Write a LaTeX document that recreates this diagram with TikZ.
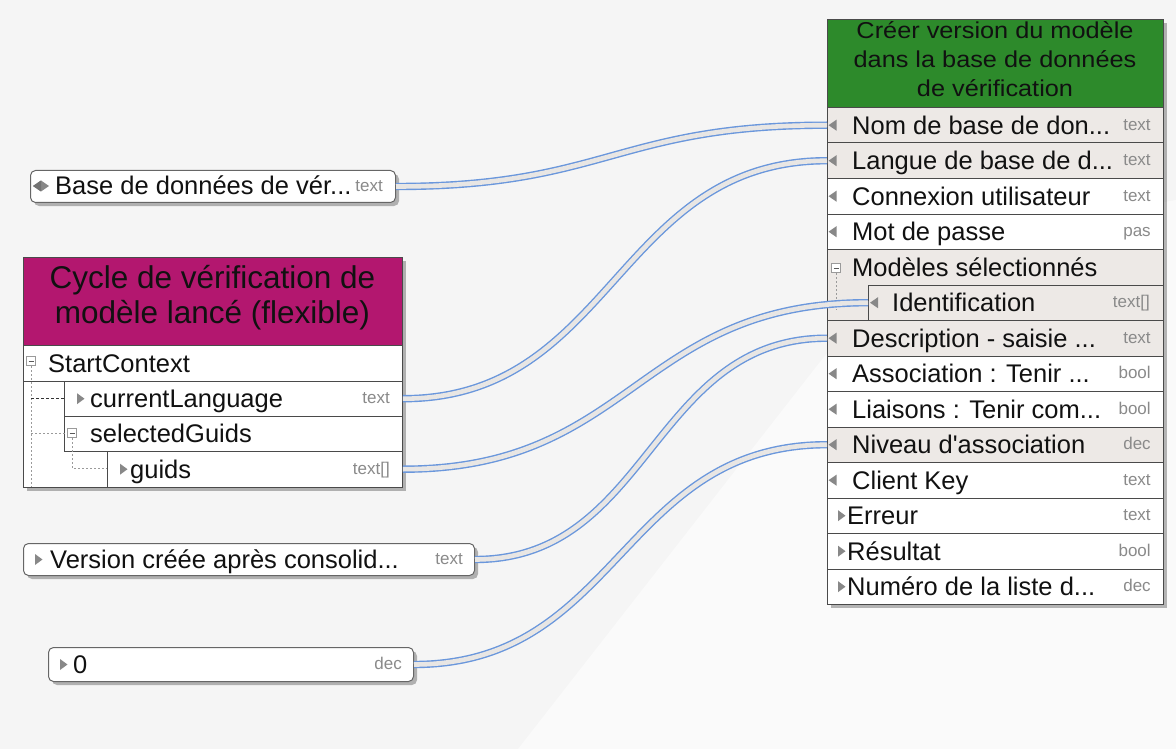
\documentclass[tikz,border=0pt]{standalone}
\usepackage{fontspec}
\setmainfont{Liberation Sans}
\newfontfamily\rf{Liberation Sans}
\newfontfamily\ghfont{Liberation Sans}[FakeStretch=1.1]
\usetikzlibrary{shadows,calc}
\definecolor{bg}{HTML}{F5F5F5}
\definecolor{bglight}{HTML}{FAFAFA}
\definecolor{boxline}{HTML}{4A4A4A}
\definecolor{nodeline}{HTML}{666666}
\definecolor{shade}{HTML}{EDE9E6}
\definecolor{ggreen}{HTML}{2D8A2B}
\definecolor{pmag}{HTML}{B3176F}
\definecolor{txt}{HTML}{111111}
\definecolor{typegray}{HTML}{8A8A8A}
\definecolor{icongray}{HTML}{888888}
\definecolor{treegray}{HTML}{9A9A9A}
\definecolor{pipeblue}{HTML}{6A97DC}
\definecolor{pipefill}{HTML}{E8E6E4}
\pgfdeclarelayer{icons}
\pgfsetlayers{main,icons}
\newcommand\grow[6]{%
  \node[rowbox, fill=#3, minimum width=336, minimum height=35.5] (#1) at (827,{107+35.5*#2}) {};
  \node[rt] (#1-t) at ([xshift=#6,yshift=-9pt]#1.west) {#4};
  \node[tl] (#1-y) at ([xshift=-13pt,yshift=-5pt]#1.east) {#5};}
\newcommand\inarr[2]{\begin{pgfonlayer}{icons}\fill[icongray] ([xshift=#2]#1.west) -- ++(8,-5.5) -- ++(0,11) -- cycle;\end{pgfonlayer}}
\newcommand\outarr[2]{\begin{pgfonlayer}{icons}\fill[icongray] ([xshift=#2,yshift=5.5pt]#1.west) -- ++(0,11) -- ++(7.5,-5.5) -- cycle;\end{pgfonlayer}}
\newcommand\minusbox[2]{\begin{pgfonlayer}{icons}\draw[draw=treegray, fill=white, line width=0.7pt] (#1-4.5,#2-4.5) rectangle ++(9,9);
  \draw[draw=black!65, line width=0.9pt] (#1-2.5,#2) -- ++(5,0);\end{pgfonlayer}}
\begin{document}
\begin{tikzpicture}[x=1pt,y=-1pt,
  rowbox/.style={draw=boxline, line width=0.9pt, inner sep=0, anchor=north west},
  rt/.style={font=\rf\fontsize{25.5}{30}\selectfont, text=txt, inner sep=0, anchor=base west},
  tl/.style={font=\rf\fontsize{17}{20}\selectfont, text=typegray, inner sep=0, anchor=base east},
  ghtext/.style={font=\ghfont\fontsize{23}{28}\selectfont, text=txt, inner sep=0, anchor=base},
  phtext/.style={font=\rf\fontsize{31.5}{36}\selectfont, text=txt, inner sep=0, anchor=base},
  pipe/.style={draw=pipeblue, line width=1.4pt, double=pipefill, double distance=4.6pt},
  shad/.style={drop shadow={shadow xshift=3.5pt, shadow yshift=-3.5pt, fill=black, opacity=0.28}},
  rnode/.style={rowbox, rounded corners=5pt, fill=white, draw=nodeline, line width=1pt, shad},
  tree/.style={draw=treegray, line width=0.8pt, dash pattern=on 2pt off 2pt},
]
\useasboundingbox (0,0) rectangle (1176,749);
\fill[bg] (0,0) rectangle (1176,749);
\fill[bglight] (518,749) -- (816,367) .. controls (900,260) and (1000,230) .. (1176,200) -- (1176,749) -- cycle;

% ---------- green function box ----------
\node[rowbox, fill=white, minimum width=336, minimum height=585, shad] (gbox) at (827,19) {};
\node[rowbox, fill=ggreen, minimum width=336, minimum height=88] (ghdr) at (827,19) {};
\node[ghtext] (gh1) at (995,39) {Créer version du modèle};
\node[ghtext] (gh2) at (995,68) {dans la base de données};
\node[ghtext] (gh3) at (995,97) {de vérification};

\grow{nom}{0}{shade}{Nom de base de don...}{text}{25pt}
\grow{langue}{1}{shade}{Langue de base de d...}{text}{25pt}
\grow{conn}{2}{white}{Connexion utilisateur}{text}{25pt}
\grow{mdp}{3}{white}{Mot de passe}{pas}{25pt}
\node[rowbox, fill=shade, minimum width=336, minimum height=71] (mods) at (827,249) {};
\node[rt] (mods-t) at (852,276) {Modèles sélectionnés};
\node[rowbox, fill=shade, minimum width=295, minimum height=35.5] (ident) at (868,284.5) {};
\node[rt] (ident-t) at (892,311) {Identification};
\node[tl] (ident-y) at (1150,307) {text[]};
\draw[tree] (836,273) -- (836,310);
\minusbox{836}{268}
\grow{desc}{6}{shade}{Description - saisie ...}{text}{25pt}
\grow{assoc}{7}{white}{Association : Tenir ...}{bool}{25pt}
\grow{liais}{8}{white}{Liaisons : Tenir com...}{bool}{25pt}
\grow{niv}{9}{shade}{Niveau d'association}{dec}{25pt}
\grow{ck}{10}{white}{Client Key}{text}{25pt}
\grow{err}{11}{white}{Erreur}{text}{20pt}
\grow{res}{12}{white}{Résultat}{bool}{20pt}
\grow{num}{13}{white}{Numéro de la liste d...}{dec}{20pt}
\inarr{nom}{1.5pt}\inarr{langue}{1.5pt}\inarr{conn}{1.5pt}\inarr{mdp}{1.5pt}
\inarr{ident}{2pt}
\inarr{desc}{1.5pt}\inarr{assoc}{1.5pt}\inarr{liais}{1.5pt}\inarr{niv}{1.5pt}\inarr{ck}{1.5pt}
\outarr{err}{11pt}\outarr{res}{11pt}\outarr{num}{11pt}

% ---------- magenta event box ----------
\node[rowbox, fill=white, minimum width=379, minimum height=230, shad] (pbox) at (23,257) {};
\node[rowbox, fill=pmag, minimum width=379, minimum height=88] (phdr) at (23,257) {};
\node[phtext] (ph1) at (212.5,288) {Cycle de vérification de};
\node[phtext] (ph2) at (212.5,323) {modèle lancé (flexible)};
\node[rowbox, fill=white, minimum width=379, minimum height=36] (sc) at (23,345) {};
\node[rt] (sc-t) at (48,372) {StartContext};
\node[rowbox, fill=white, minimum width=338, minimum height=34.5] (cl) at (64,381) {};
\node[rt] (cl-t) at (90,407) {currentLanguage};
\node[tl] (cl-y) at (390,403) {text};
\node[rowbox, fill=white, minimum width=338, minimum height=35] (sg) at (64,415.5) {};
\node[rt] (sg-t) at (90,442) {selectedGuids};
\node[rowbox, fill=white, minimum width=295, minimum height=36.5] (gu) at (107,450.5) {};
\node[rt] (gu-t) at (130,478) {guids};
\node[tl] (gu-y) at (390,474) {text[]};
\draw[tree] (31,366) -- (31,487);
\draw[tree, draw=black!80, dash pattern=on 3pt off 2pt] (31,398) -- (64,398);
\draw[tree] (31,433) -- (68,433);
\draw[tree] (72,438) -- (72,468) -- (107,468);
\minusbox{31}{361}
\minusbox{72}{433}
\outarr{cl}{13pt}
\outarr{gu}{13pt}

% ---------- value nodes ----------
\node[rnode, minimum width=365, minimum height=32] (base) at (30,170) {};
\node[rt] (base-t) at (55,195) {Base de données de vér...};
\node[tl] (base-y) at (383,191) {text};
\begin{pgfonlayer}{icons}
\fill[icongray] (33,186) -- (41,180.5) -- (49,186) -- (41,191.5) -- cycle;
\fill[black!55] (33,186) -- (41,180.5) -- (41,191.5) -- cycle;
\end{pgfonlayer}

\node[rnode, minimum width=451, minimum height=32] (version) at (23,543) {};
\node[rt] (version-t) at (50,568) {Version créée après consolid...};
\node[tl] (version-y) at (463,564) {text};
\outarr{version}{12pt}

\node[rnode, minimum width=365, minimum height=34] (zero) at (48,647) {};
\node[rt] (zero-t) at (73,673) {0};
\node[tl] (zero-y) at (402,669) {dec};
\outarr{zero}{12pt}

% ---------- connectors ----------
\draw[pipe] (base.east) .. controls +(210,0) and +(-210,0) .. (nom.west);
\draw[pipe] (cl.east) .. controls +(210,0) and +(-210,0) .. (langue.west);
\draw[pipe] (gu.east) .. controls +(230,0) and +(-230,0) .. (ident.west);
\draw[pipe] (version.east) .. controls +(175,0) and +(-175,0) .. (desc.west);
\draw[pipe] (zero.east) .. controls +(205,0) and +(-205,0) .. (niv.west);
\end{tikzpicture}
\end{document}
